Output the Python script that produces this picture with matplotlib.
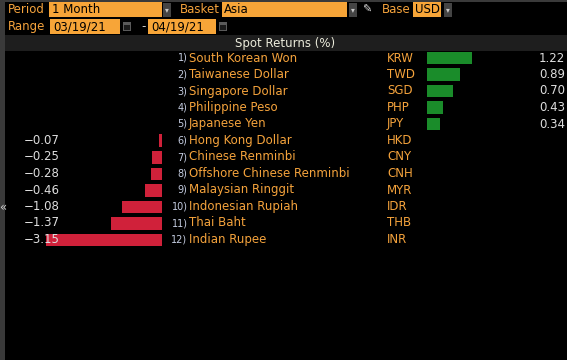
import matplotlib
matplotlib.use('Agg')
import matplotlib.pyplot as plt
from matplotlib.patches import Rectangle

# data
names = ['South Korean Won', 'Taiwanese Dollar', 'Singapore Dollar', 'Philippine Peso',
         'Japanese Yen', 'Hong Kong Dollar', 'Chinese Renminbi', 'Offshore Chinese Renminbi',
         'Malaysian Ringgit', 'Indonesian Rupiah', 'Thai Baht', 'Indian Rupee']
codes = ['KRW', 'TWD', 'SGD', 'PHP', 'JPY', 'HKD', 'CNY', 'CNH', 'MYR', 'IDR', 'THB', 'INR']
returns = [1.22, 0.89, 0.70, 0.43, 0.34, -0.07, -0.25, -0.28, -0.46, -1.08, -1.37, -3.15]

period = '1 Month'
basket = 'Asia'
base = 'USD'
date_from = '03/19/21'
date_to = '04/19/21'

W, H = 567, 360
ORANGE = '#f5a33c'
FIELD = '#f7a538'
GREEN = '#1a8c2a'
RED = '#d0213a'
WHITE = '#dedede'
FONT = 'DejaVu Sans'

plt.rcParams['font.family'] = FONT
fig = plt.figure(figsize=(W / 100, H / 100), dpi=100, facecolor='black')


def fx(x):
    return x / W


def fy(y):
    return 1 - y / H


def box(x0, y0, x1, y1, color):
    fig.add_artist(Rectangle((fx(x0), fy(y1)), fx(x1) - fx(x0), fy(y0) - fy(y1),
                             transform=fig.transFigure, facecolor=color, edgecolor='none'))


def txt(x, y, s, color=ORANGE, size=8.5, ha='left', **kw):
    fig.text(fx(x), fy(y), s, color=color, fontsize=size, ha=ha, va='center', **kw)


def dropdown(x0, y0):
    box(x0, y0, x0 + 8, y0 + 14, '#444444')
    txt(x0 + 4, y0 + 7, '▾', color='#c8c8c8', size=5.5, ha='center')


def calendar(x0, y0):
    box(x0, y0, x0 + 8, y0 + 9, '#5a5a5a')
    box(x0 + 1, y0 + 3, x0 + 7, y0 + 8, '#1a1a1a')


# frame
box(0, 0, W, 2, '#3a3a3a')
box(0, 0, 5, H, '#3a3a3a')
txt(3, 207, '«', color='#d0d0d0', size=8.5, ha='center')

# control bar
txt(8, 9.5, 'Period')
box(49, 2, 162, 17, FIELD)
txt(52, 9.5, period, color='black')
dropdown(163, 3)
txt(180, 9.5, 'Basket')
box(222, 2, 347, 17, FIELD)
txt(224, 9.5, basket, color='black')
dropdown(349, 3)
txt(367, 9.5, '✎', color='#e0e0e0', size=8, ha='center')
txt(382, 9.5, 'Base')
box(413, 2, 441, 17, FIELD)
txt(415, 9.5, base, color='black')
dropdown(444, 3)

txt(8, 26.5, 'Range')
box(50, 19, 120, 34, FIELD)
txt(53, 26.5, date_from, color='black')
calendar(123, 22)
txt(141, 26.5, '-', color='#d0d0d0')
box(148, 19, 216, 34, FIELD)
txt(151, 26.5, date_to, color='black')
calendar(219, 22)

# header
box(5, 35, W, 51, '#1e1e1e')
txt(285, 43, 'Spot Returns (%)', color='#ececdc', ha='center')

# bar axes, same scale on both sides (about 37 px per 1%)
y_top, y_bot = 49.75, 248.25
scale = 36.8
zero_l, zero_r = 161.5, 427
left_w = 4.0 * scale
ax_l = fig.add_axes([fx(zero_l - left_w), fy(y_bot), fx(left_w), fy(y_top) - fy(y_bot)])
right_w = W - zero_r
ax_r = fig.add_axes([fx(zero_r), fy(y_bot), fx(right_w), fy(y_top) - fy(y_bot)])

rows = list(range(len(names)))
neg = [min(v, 0) for v in returns]
pos = [max(v, 0) for v in returns]
ax_l.barh(rows, neg, height=0.76, color=RED)
ax_r.barh(rows, pos, height=0.76, color=GREEN)
ax_l.set_xlim(-4.0, 0)
ax_r.set_xlim(0, right_w / scale)
for ax in (ax_l, ax_r):
    ax.set_ylim(len(names) - 0.5, -0.5)
    ax.axis('off')
    ax.patch.set_alpha(0)

# row labels
for i, (n, c, v) in enumerate(zip(names, codes, returns)):
    y = 58 + 16.5 * i
    txt(187.5, y, f'{i + 1})', color='#c4cce0', size=7, ha='right')
    txt(189, y, n)
    txt(387, y, c)
    if v >= 0:
        txt(565, y, f'{v:.2f}', color=WHITE, ha='right')
    else:
        txt(24, y, f'{v:.2f}'.replace('-', '\u2212'), color=WHITE)

fig.savefig('out.png', dpi=100, facecolor='black')
